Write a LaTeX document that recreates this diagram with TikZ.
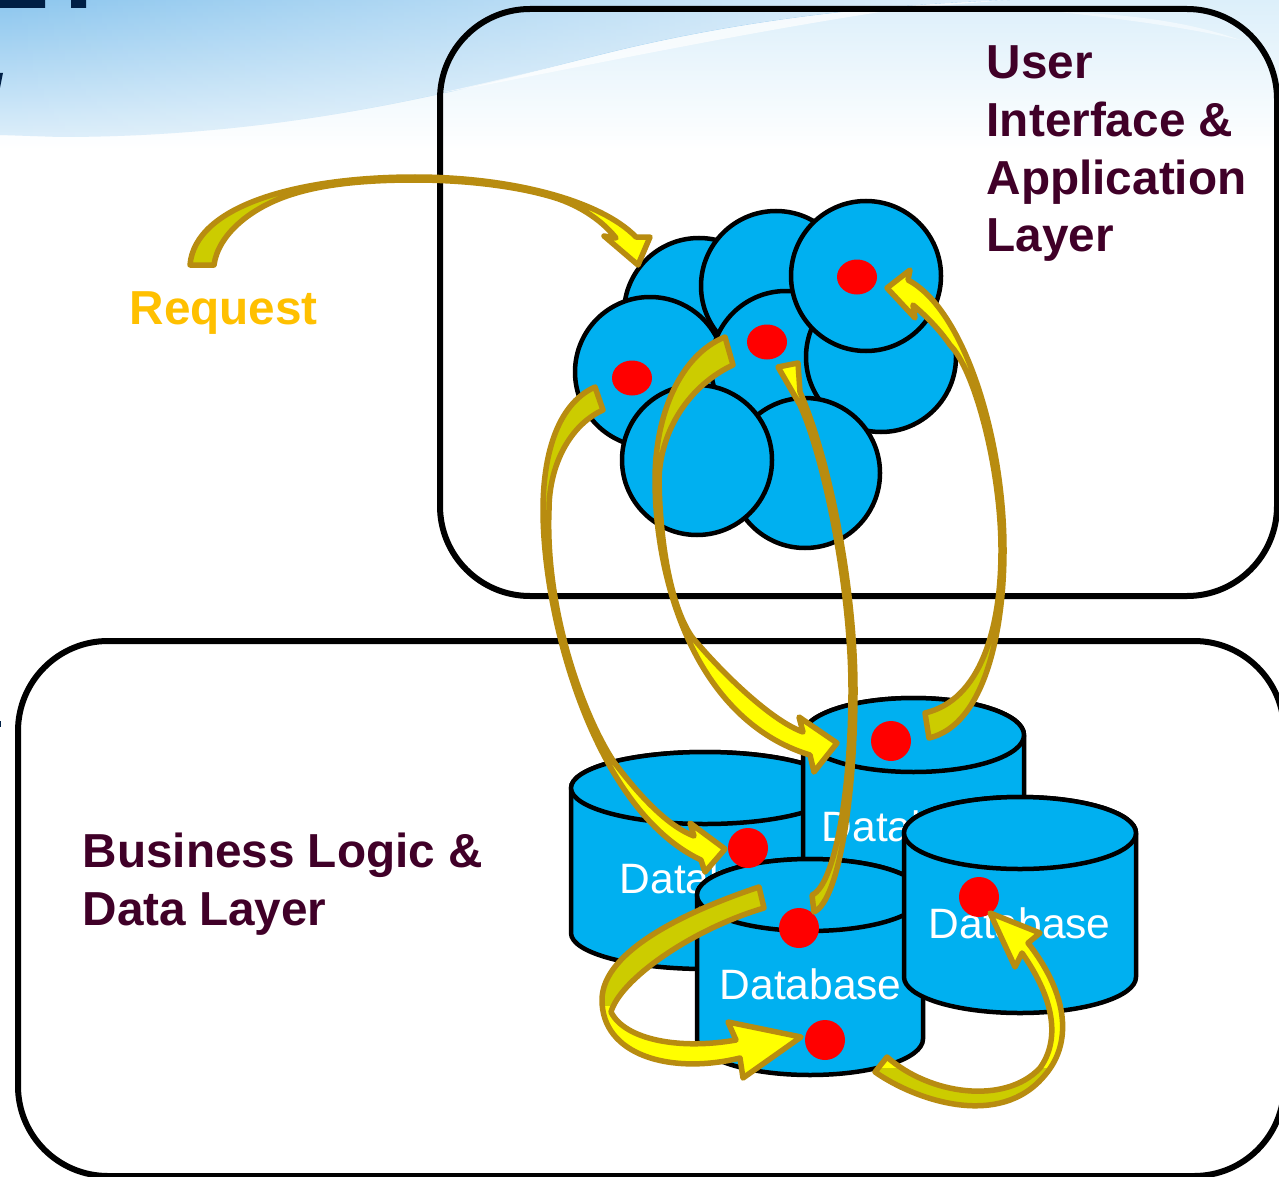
\documentclass[tikz,border=0pt]{standalone}
\usepackage{fontspec}
\setmainfont{Liberation Sans}
\usetikzlibrary{fadings,shapes.geometric}
\definecolor{skyTop}{HTML}{8CC6EE}
\definecolor{skyLow}{HTML}{DCEEFA}
\definecolor{paleTop}{HTML}{DCEFFA}
\definecolor{blobBlue}{HTML}{00B0F0}
\definecolor{maroon}{HTML}{400028}
\definecolor{gold}{HTML}{FFC000}
\definecolor{arrowEdge}{HTML}{B88C10}
\definecolor{arrowDark}{HTML}{CCCC00}
\definecolor{arrowBright}{RGB}{255,255,0}
\definecolor{dotRed}{RGB}{255,0,0}
\definecolor{titleInk}{HTML}{001F45}
\tikzfading[name=skyfade,left color=transparent!100,right color=transparent!25]
\tikzset{
  layerbox/.style={draw=black,line width=6pt,rounded corners=90pt},
  blob/.style={circle,draw=black,fill=blobBlue,line width=4.5pt,inner sep=0pt,minimum size=150pt},
  reddot/.style={ellipse,fill=dotRed,inner sep=0pt,minimum width=40pt,minimum height=35pt},
  reddisc/.style={circle,fill=dotRed,inner sep=0pt,minimum size=40pt},
  cylbody/.style={draw=black,fill=blobBlue,line width=4.5pt,line join=round},
  heading/.style={text=maroon,font=\fontsize{47.7}{57.8}\selectfont\bfseries,align=left,inner sep=0pt,anchor=north west},
  dbtext/.style={text=white,font=\fontsize{42.5}{50}\selectfont,inner sep=0pt,anchor=base west},
  arrowline/.style={draw=arrowEdge,line width=5.5pt,line join=round}
}
% cx, half width, top centre y, ry, body bottom y
\newcommand\dbcyl[5]{%
  \pgfmathsetmacro\cL{#1-#2}\pgfmathsetmacro\cR{#1+#2}%
  \path[cylbody] (\cL,#3) -- (\cL,#5) arc[start angle=180,end angle=0,x radius=#2,y radius=#4]
    -- (\cR,#3) arc[start angle=0,end angle=-180,x radius=#2,y radius=#4] -- cycle;
  \path[cylbody] (#1,#3) ellipse[x radius=#2,y radius=#4];
}
% outline path, region with the darker shade
\newcommand\bentarrow[2]{%
  \fill[arrowBright] #1;
  \begin{scope}\clip #2;\fill[arrowDark] #1;\end{scope}
  \path[arrowline] #1;
}
\begin{document}
\begin{tikzpicture}[x=1pt,y=-1pt]
\useasboundingbox (0,0) rectangle (1279,1177);
\clip (0,0) rectangle (1279,1177);
\fill[white] (0,0) rectangle (1279,1177);
% slide background
\shade[top color=paleTop,bottom color=white] (0,0) rectangle (1279,150);
\shade[top color=skyTop,bottom color=skyLow]
  (0,0) -- (1010,0) .. controls (850,6) and (720,25) .. (600,55)
  .. controls (480,85) and (300,137) .. (60,137) -- (0,135) -- cycle;
\fill[white,path fading=skyfade]
  (0,0) -- (1010,0) .. controls (850,6) and (720,25) .. (600,55)
  .. controls (480,85) and (300,137) .. (60,137) -- (0,135) -- cycle;
\fill[white,opacity=.7] (1010,0) .. controls (850,6) and (720,25) .. (600,55) .. controls (560,65) and (500,80) .. (440,93)
  .. controls (520,80) and (700,40) .. (880,12) .. controls (930,6) and (970,3) .. (1010,0) -- cycle;
\fill[white,opacity=.5] (1060,12) .. controls (1130,14) and (1190,22) .. (1240,40) .. controls (1190,28) and (1130,20) .. (1060,12) -- cycle;
\fill[titleInk] (0,0) rectangle (45,8) (71,0) rectangle (86,8);
\fill[titleInk] (0,73) -- (3,73) -- (0,88) -- cycle;
\fill[titleInk] (0,721) rectangle (1,727);
% layers
\draw[layerbox] (440,9) rectangle (1277,596);
\draw[layerbox] (18,641) rectangle (1284,1176);
\node[heading] (upperTitle) at (986.5,45.5) {User\\Interface \&\\Application\\Layer};
\node[heading] (lowerTitle) at (82.5,833) {Business Logic \&\\Data Layer};
\node[text=gold,font=\fontsize{47.7}{57.5}\selectfont\bfseries,inner sep=0pt,anchor=base west] (request) at (129.5,324) {Request};
% application servers
\node[blob] (backLeft) at (699,313) {};
\node[blob] (topMid) at (776,286) {};
\node[blob] (left) at (650,372) {};
\node[blob] (centre) at (786,366) {};
\node[blob] (right) at (881,357) {};
\node[blob] (lowRight) at (805,473) {};
\node[blob] (lowMid) at (697,460) {};
\node[blob] (topRight) at (866,276) {};
\node[reddot] (dotTop) at (857,277) {};
\node[reddot] (dotCentre) at (767,342) {};
\node[reddot] (dotLeft) at (632,378) {};
% databases
\dbcyl{705}{134}{788}{36}{933}
\node[dbtext] (textLeft) at (619.5,893) {Database};
\dbcyl{913.5}{110.5}{735}{37}{930}
\node[dbtext] (textBack) at (821.5,841) {Database};
\dbcyl{810}{113}{895}{36}{1039}
\node[dbtext] (textFront) at (719.5,999) {Database};
\dbcyl{1020}{116}{833}{36}{977}
\node[dbtext] (textRight) at (928.5,938) {Database};
\node[reddisc] (dbBack) at (891,741) {};
\node[reddisc] (dbLeft) at (748,848) {};
\node[reddisc] (dbFrontTop) at (799,928) {};
\node[reddisc] (dbRight) at (979,897) {};
\node[reddisc] (dbFrontLow) at (825,1040) {};
% arrows
\bentarrow{(190,265) .. controls (195,205) and (300,177) .. (415,177) .. controls (510,177) and (600,200) .. (636,237) -- (650,237) -- (638,265) -- (604,236) -- (616,238) .. controls (600,218) and (575,203) .. (549,196) .. controls (510,185) and (460,180) .. (415,180) .. controls (360,180) and (320,185) .. (290,195) .. controls (250,208) and (218,235) .. (214,265) -- cycle}{(0,0) rectangle (415,300)}
\bentarrow{(595,387) .. controls (555,405) and (543,460) .. (543,510) .. controls (543,620) and (595,810) .. (701,860) -- (705,872) -- (725,849) -- (690,823) -- (694,836) .. controls (665,825) and (635,790) .. (614,762) .. controls (583,715) and (545,610) .. (549,510) .. controls (549,465) and (570,425) .. (603,410) -- cycle}{(500,370) rectangle (640,510)}
\bentarrow{(725,337) .. controls (680,355) and (655,415) .. (655,480) .. controls (655,580) and (695,720) .. (810,755) -- (814,772) -- (837,743) -- (799,717) -- (803,732) .. controls (775,722) and (730,682) .. (692,637) .. controls (670,605) and (660,540) .. (659,480) .. controls (660,430) and (690,385) .. (733,365) -- cycle}{(640,320) rectangle (750,510)}
\bentarrow{(887,288) -- (910,270) -- (908,280) .. controls (965,310) and (1004,440) .. (1004,550) .. controls (1004,630) and (985,725) .. (929,738) -- (925,713) .. controls (980,700) and (1001,630) .. (1001,550) .. controls (1001,470) and (975,370) .. (950,345) .. controls (940,330) and (925,315) .. (913,305) -- (915,318) -- cycle}{(900,600) rectangle (1020,750)}
\bentarrow{(778,367) -- (798,363) -- (800,392) .. controls (830,460) and (855,590) .. (855,690) .. controls (855,790) and (840,900) .. (814,912) -- (812,895) .. controls (835,885) and (851,790) .. (851,690) .. controls (851,590) and (825,460) .. (800,405) -- cycle}{(790,800) rectangle (870,920)}
\bentarrow{(759,887) .. controls (690,910) and (602,950) .. (602,1000) .. controls (602,1055) and (670,1075) .. (740,1058) -- (743,1078) -- (801,1037) -- (728,1022) -- (736,1040) .. controls (680,1050) and (625,1040) .. (611,1012) .. controls (620,980) and (690,930) .. (764,908) -- cycle}{(590,880) rectangle (780,1005)}
\bentarrow{(875,1072) .. controls (915,1100) and (1000,1130) .. (1045,1075) .. controls (1075,1040) and (1065,990) .. (1028,943) -- (1040,933) -- (990,913) -- (1015,967) -- (1022,953) .. controls (1055,1000) and (1060,1040) .. (1040,1068) .. controls (1005,1105) and (930,1095) .. (887,1057) -- cycle}{(860,1068) rectangle (1080,1120)}
\end{tikzpicture}
\end{document}
